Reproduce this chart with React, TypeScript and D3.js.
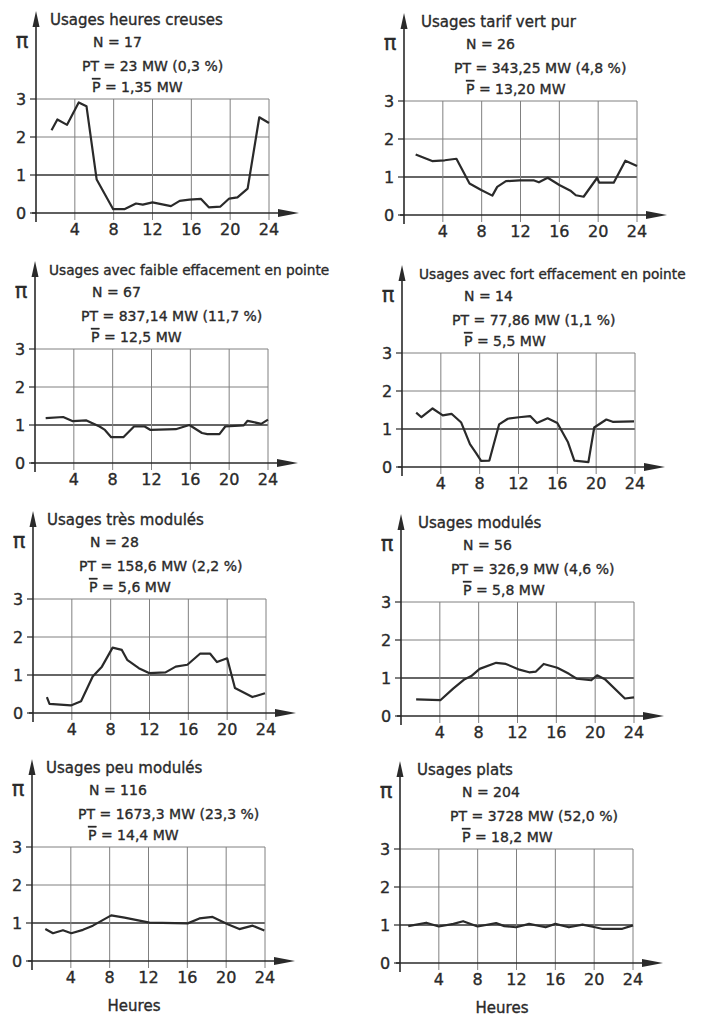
import React from 'react';
import * as d3 from 'd3';

// hourly load profiles, ratio pi = P(h) / P mean
const titles = [
  'Usages heures creuses',
  'Usages tarif vert pur',
  'Usages avec faible effacement en pointe',
  'Usages avec fort effacement en pointe',
  'Usages très modulés',
  'Usages modulés',
  'Usages peu modulés',
  'Usages plats',
];

const nLabels = ['N = 17', 'N = 26', 'N = 67', 'N = 14', 'N = 28', 'N = 56', 'N = 116', 'N = 204'];

const ptLabels = [
  'PT = 23 MW (0,3 %)',
  'PT = 343,25 MW (4,8 %)',
  'PT = 837,14 MW (11,7 %)',
  'PT = 77,86 MW (1,1 %)',
  'PT = 158,6 MW (2,2 %)',
  'PT = 326,9 MW (4,6 %)',
  'PT = 1673,3 MW (23,3 %)',
  'PT = 3728 MW (52,0 %)',
];

const pMeanLabels = ['1,35 MW', '13,20 MW', '12,5 MW', '5,5 MW', '5,6 MW', '5,8 MW', '14,4 MW', '18,2 MW'];

const hours1 = [1.6, 2.2, 3.2, 4.4, 5.2, 6.25, 7.95, 9.1, 10.3, 11, 12, 13.9, 14.8, 15.8, 17, 17.8, 19, 19.9, 20.75, 21.8, 23, 24];
const values1 = [2.18, 2.46, 2.32, 2.91, 2.81, 0.88, 0.1, 0.1, 0.25, 0.22, 0.28, 0.18, 0.32, 0.35, 0.37, 0.15, 0.17, 0.38, 0.41, 0.64, 2.52, 2.37];

const hours2 = [1.2, 2.9, 4.2, 5.4, 6.75, 7.95, 9.1, 9.6, 10.5, 11.9, 13.4, 13.9, 14.8, 16, 17.2, 17.7, 18.5, 19.9, 20.1, 21.6, 22.8, 24];
const values2 = [1.59, 1.42, 1.44, 1.48, 0.83, 0.66, 0.51, 0.74, 0.89, 0.91, 0.91, 0.86, 0.98, 0.79, 0.63, 0.52, 0.48, 0.98, 0.85, 0.85, 1.43, 1.29];

const hours3 = [1.1, 2.9, 3.9, 5.3, 6.65, 7.2, 7.85, 9.1, 10.2, 11.3, 11.9, 14.5, 15.9, 17.2, 17.75, 19, 19.6, 21.5, 21.9, 23.3, 24];
const values3 = [1.18, 1.21, 1.1, 1.12, 0.96, 0.87, 0.68, 0.68, 0.96, 0.96, 0.87, 0.89, 1.0, 0.79, 0.76, 0.76, 0.96, 0.99, 1.11, 1.03, 1.14];

const hours4 = [1.46, 2.0, 3.15, 4.2, 5.1, 6.1, 7, 7.65, 8.15, 9, 10, 10.9, 12.05, 13.2, 13.9, 15, 16, 17.1, 17.75, 19.2, 19.8, 21.05, 21.7, 23.9];
const values4 = [1.43, 1.31, 1.54, 1.36, 1.4, 1.17, 0.6, 0.36, 0.16, 0.17, 1.12, 1.27, 1.31, 1.34, 1.16, 1.28, 1.16, 0.65, 0.17, 0.13, 1.04, 1.25, 1.19, 1.2];

const hours5 = [1.43, 1.7, 3.9, 4.95, 6.15, 7.1, 8.2, 9.15, 9.7, 10.9, 11.95, 13.65, 14.7, 15.9, 17.2, 18.25, 18.95, 20, 20.8, 22.6, 23.9];
const values5 = [0.42, 0.24, 0.2, 0.31, 0.96, 1.22, 1.72, 1.66, 1.4, 1.18, 1.05, 1.07, 1.22, 1.27, 1.56, 1.56, 1.34, 1.44, 0.66, 0.42, 0.52];

const hours6 = [1.56, 4.08, 5.37, 6.56, 7.24, 8.1, 9.8, 10.8, 12.2, 13.2, 13.9, 14.7, 16.1, 17.3, 18.1, 19.6, 20.2, 21, 23.06, 24];
const values6 = [0.44, 0.42, 0.72, 0.97, 1.05, 1.24, 1.4, 1.37, 1.22, 1.15, 1.17, 1.37, 1.27, 1.11, 0.98, 0.94, 1.07, 0.97, 0.46, 0.49];

const hours7 = [1.37, 2.16, 3.19, 4.05, 5.25, 6.27, 8.16, 9.53, 12.1, 16.04, 17.24, 18.6, 20.16, 21.36, 22.73, 23.93];
const values7 = [0.84, 0.73, 0.81, 0.73, 0.82, 0.93, 1.2, 1.14, 1.01, 0.99, 1.12, 1.16, 0.97, 0.84, 0.93, 0.8];

const hours8 = [0.85, 2.7, 4.0, 5.5, 6.5, 8.0, 9.9, 10.75, 11.95, 13.3, 15, 16, 17.4, 18.8, 20.1, 20.8, 22.9, 24];
const values8 = [0.97, 1.06, 0.96, 1.03, 1.1, 0.96, 1.05, 0.97, 0.94, 1.03, 0.94, 1.03, 0.94, 1.01, 0.94, 0.9, 0.9, 0.99];

const hourSeries = [hours1, hours2, hours3, hours4, hours5, hours6, hours7, hours8];
const valueSeries = [values1, values2, values3, values4, values5, values6, values7, values8];

const xTicks = [4, 8, 12, 16, 20, 24];
const yTicks = [0, 1, 2, 3];

// axis origin (x of the vertical axis, y of the zero line) for each panel
const origins = [
  [36, 213], [404, 215],
  [35, 463], [402, 467],
  [33, 713], [401, 716],
  [32, 961], [400, 963],
];

const W = 701;
const H = 1016;
const font = '"DejaVu Sans", Verdana, sans-serif';
const ink = '#2a2a2a';
// scanned lettering is a bit heavier than the regular weight
const textWeight = { stroke: ink, strokeWidth: 0.35 };

const x = d3.scaleLinear().domain([0, 24]).range([0, 233]);
const y = d3.scaleLinear().domain([0, 3]).range([0, -114]);

const Panel = ({ i }: { i: number }) => {
  const [ox, oy] = origins[i];
  const right = i % 2 === 1;
  const hours = hourSeries[i];
  const values = valueSeries[i];
  const line = d3.line<number>()
    .x((d, k) => x(hours[k]))
    .y(d => y(d));

  const tx = right ? 17 : 14;
  const nx = right ? 62 : 57;
  const px = right ? 50 : 46;
  const mx = right ? 62 : 56;
  const yTop = y(3) - 88;
  const xEnd = x(24) + 30;

  return (
    <g transform={`translate(${ox},${oy})`}>
      {/* grid */}
      {yTicks.filter(t => t > 0).map(t => (
        <line key={'h' + t} x1={0} x2={x(24)} y1={y(t)} y2={y(t)}
          stroke={t === 1 ? '#333' : '#808080'} strokeWidth={t === 1 ? 1.5 : 1} />
      ))}
      {xTicks.map(t => (
        <line key={'v' + t} x1={x(t)} x2={x(t)} y1={y(3)} y2={7}
          stroke="#808080" strokeWidth={1} />
      ))}
      {yTicks.map(t => (
        <line key={'yt' + t} x1={-6} x2={0} y1={y(t)} y2={y(t)} stroke={ink} strokeWidth={1.2} />
      ))}

      {/* axes with arrows */}
      <line x1={-4} x2={xEnd - 18} y1={0} y2={0} stroke={ink} strokeWidth={1.6} />
      <path d={`M${xEnd},0 L${xEnd - 21},-4 L${xEnd - 21},4 Z`} fill={ink} />
      <line x1={0} x2={0} y1={9} y2={yTop + 14} stroke={ink} strokeWidth={1.6} />
      <path d={`M0,${yTop} L-3.5,${yTop + 16} L3.5,${yTop + 16} Z`} fill={ink} />

      {/* data */}
      <path d={line(values) || ''} fill="none" stroke={ink} strokeWidth={2.2} strokeLinejoin="round" />

      <g fill={ink} {...textWeight}>
        {/* tick labels */}
        {yTicks.map(t => (
          <text key={'yl' + t} x={-15} y={y(t) + 6} textAnchor="middle" fontSize={16}>{t}</text>
        ))}
        {xTicks.map(t => (
          <text key={'xl' + t} x={x(t)} y={22} textAnchor="middle" fontSize={16}>{t}</text>
        ))}
        <text x={-14} y={-165} textAnchor="middle" fontSize={21}>π</text>

        {/* captions */}
        <text x={tx} y={-188} fontSize={i === 2 || i === 3 ? 13.7 : 15}>{titles[i]}</text>
        <text x={nx} y={-166} fontSize={14}>{nLabels[i]}</text>
        <text x={px} y={-142} fontSize={14}>{ptLabels[i]}</text>
        <text x={mx} y={-121} fontSize={14}>
          <tspan style={{ textDecoration: 'overline' }}>P</tspan>
          {' = ' + pMeanLabels[i]}
        </text>
        {i >= 6 && (
          <text x={102} y={50} textAnchor="middle" fontSize={15}>Heures</text>
        )}
      </g>
    </g>
  );
};

export default function App() {
  return (
    <svg width={W} height={H} viewBox={`0 0 ${W} ${H}`}
      style={{ position: 'absolute', left: 0, top: 0, background: '#fff', fontFamily: font }}>
      <rect width={W} height={H} fill="#fff" />
      {titles.map((_, i) => <Panel key={i} i={i} />)}
    </svg>
  );
}
